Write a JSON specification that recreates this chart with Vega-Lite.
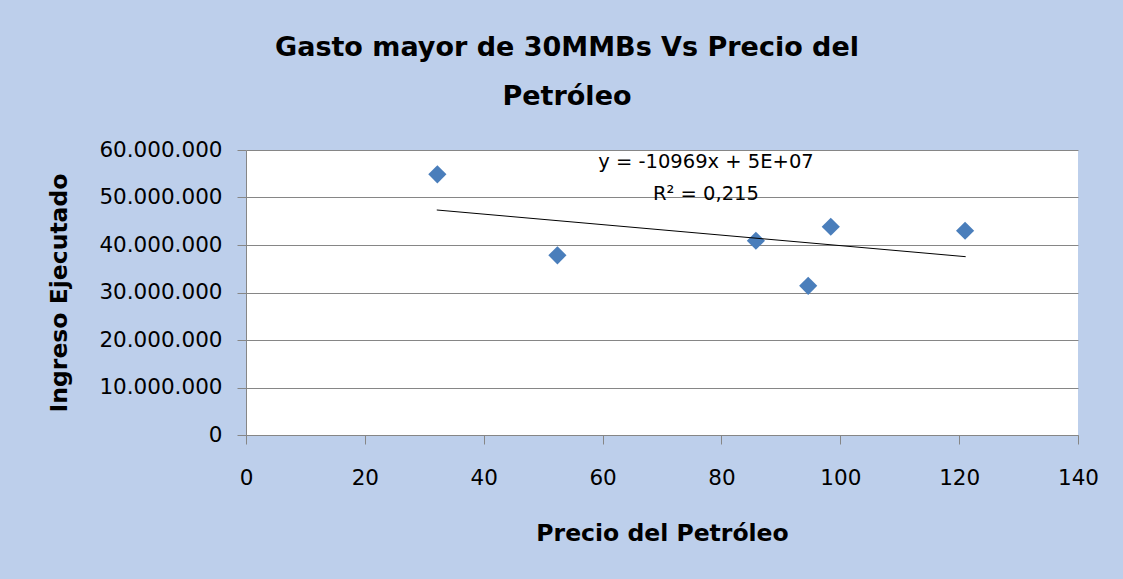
{
  "$schema": "https://vega.github.io/schema/vega-lite/v6.json",
  "width": 832,
  "height": 285,
  "autosize": {"type": "none"},
  "padding": {"left": 246, "top": 150, "right": 45, "bottom": 144},
  "background": "#bdcfeb",
  "title": {
    "text": ["Gasto mayor de 30MMBs Vs Precio del", "Petróleo"],
    "font": "DejaVu Sans",
    "fontSize": 27,
    "fontWeight": "bold",
    "color": "#000000",
    "anchor": "middle",
    "dx": -95,
    "offset": 28,
    "lineHeight": 49
  },
  "config": {
    "locale": {"number": {"decimal": ",", "thousands": ".", "grouping": [3], "currency": ["", ""]}},
    "view": {"fill": "#ffffff", "stroke": null}
  },
  "datasets": {
    "puntos": [
      {"precio": 32.2, "ingreso": 54880000},
      {"precio": 52.4, "ingreso": 37830000},
      {"precio": 85.8, "ingreso": 40900000},
      {"precio": 94.6, "ingreso": 31400000},
      {"precio": 98.4, "ingreso": 43850000},
      {"precio": 121.0, "ingreso": 43000000}
    ],
    "tendencia": [
      {"precio": 32.1, "ingreso": 47370000},
      {"precio": 121.1, "ingreso": 37540000}
    ],
    "etiquetas": [
      {"precio": 77.4, "ingreso": 57500000, "texto": "y = -10969x + 5E+07"},
      {"precio": 77.4, "ingreso": 50700000, "texto": "R² = 0,215"}
    ]
  },
  "layer": [
    {
      "data": {"name": "puntos"},
      "mark": {"type": "point", "shape": "diamond", "filled": true, "size": 330, "color": "#4a7ebb", "opacity": 1},
      "encoding": {
        "x": {
          "field": "precio", "type": "quantitative",
          "scale": {"domain": [0, 140], "nice": false},
          "axis": {
            "title": "Precio del Petróleo",
            "values": [0, 20, 40, 60, 80, 100, 120, 140],
            "grid": false,
            "labelFlush": false,
            "labelOverlap": false,
            "tickSize": 9, "tickColor": "#868686", "domainColor": "#868686",
            "labelFont": "DejaVu Sans", "labelFontSize": 21.5, "labelColor": "#000000", "labelPadding": 23,
            "titleFont": "DejaVu Sans", "titleFontSize": 23.5, "titleFontWeight": "bold", "titleColor": "#000000", "titlePadding": 33
          }
        },
        "y": {
          "field": "ingreso", "type": "quantitative",
          "scale": {"domain": [0, 60000000], "nice": false},
          "axis": {
            "title": "Ingreso Ejecutado",
            "values": [0, 10000000, 20000000, 30000000, 40000000, 50000000, 60000000],
            "format": ",d",
            "grid": true, "gridColor": "#868686", "gridWidth": 1,
            "labelFlush": false,
            "labelOverlap": false,
            "tickSize": 9, "tickColor": "#868686", "domainColor": "#868686",
            "labelFont": "DejaVu Sans", "labelFontSize": 21.5, "labelColor": "#000000", "labelPadding": 15,
            "titleFont": "DejaVu Sans", "titleFontSize": 23.5, "titleFontWeight": "bold", "titleColor": "#000000", "titlePadding": 27
          }
        }
      }
    },
    {
      "data": {"name": "tendencia"},
      "mark": {"type": "line", "color": "#000000", "strokeWidth": 1},
      "encoding": {
        "x": {"field": "precio", "type": "quantitative"},
        "y": {"field": "ingreso", "type": "quantitative"}
      }
    },
    {
      "data": {"name": "etiquetas"},
      "mark": {"type": "text", "font": "DejaVu Sans", "fontSize": 19.5, "color": "#000000", "align": "center", "baseline": "middle"},
      "encoding": {
        "x": {"field": "precio", "type": "quantitative"},
        "y": {"field": "ingreso", "type": "quantitative"},
        "text": {"field": "texto"}
      }
    }
  ]
}
